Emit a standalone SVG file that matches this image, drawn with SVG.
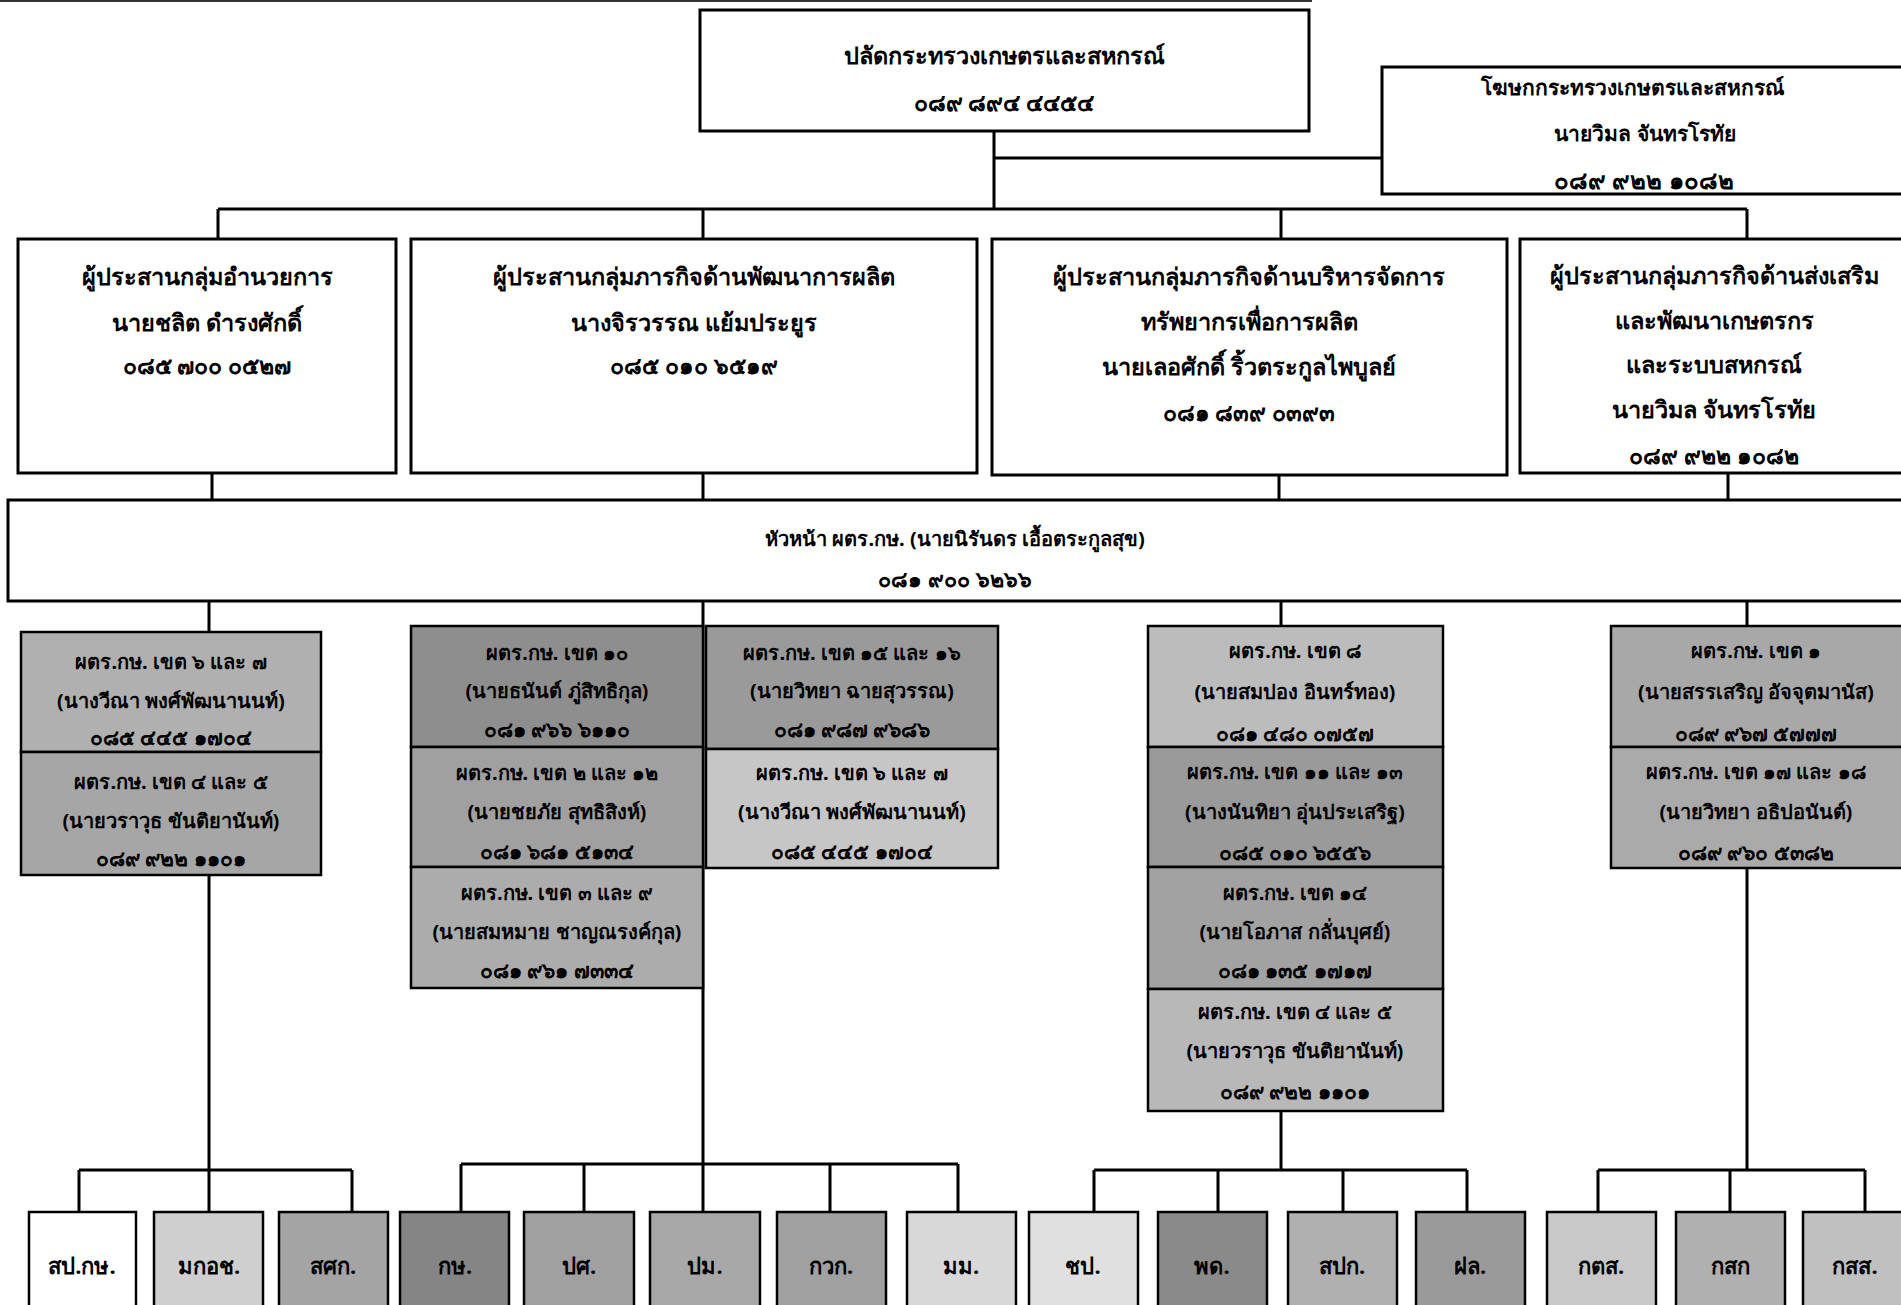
<svg xmlns="http://www.w3.org/2000/svg" width="1901" height="1305" viewBox="0 0 1901 1305">
<style>
text{font-family:"Noto Sans","Liberation Sans",sans-serif;font-weight:bold;text-anchor:middle;dominant-baseline:central;fill:#000}
.t1{font-size:23.5px}
.t2{font-size:20px}
.t3{font-size:23px}
.t4{font-size:21px}
.t5{font-size:22px}
.box{fill:#fff;stroke:#000;stroke-width:3}
.cell{stroke:#000;stroke-width:2.5}
.bb{stroke:#000;stroke-width:2.5}
.ln{stroke:#000;stroke-width:3;fill:none}
</style>
<rect width="1901" height="1305" fill="#fff"/>
<line x1="0" y1="1" x2="1312" y2="1" stroke="#333" stroke-width="2"/>
<g id="connectors">
<path class="ln" d="M994 131V209M994 158H1382M218 209H1747M218 209V239M703 209V239M1281 209V239M1747 209V239"/>
<path class="ln" d="M212 473V500M703 473V500M1279 475V500M1728 473V500"/>
<path class="ln" d="M209 601V632M703 601V1164M1281 601V626M1747 601V626"/>
<path class="ln" d="M209 875V1170M79 1170H352M79 1170V1212M209 1170V1212M352 1170V1212"/>
<path class="ln" d="M461 1164H958M461 1164V1212M584 1164V1212M703 1164V1212M830 1164V1212M958 1164V1212"/>
<path class="ln" d="M1281 1111V1170M1094 1170H1467M1094 1170V1212M1218 1170V1212M1343 1170V1212M1467 1170V1212"/>
<path class="ln" d="M1747 868V1170M1598 1170H1865M1598 1170V1212M1730 1170V1212M1865 1170V1212"/>
</g>
<g id="n-top">
<rect class="box" x="700" y="10" width="609" height="121"/>
<text class="t1" x="1004" y="55">ปลัดกระทรวงเกษตรและสหกรณ์</text>
<text class="t3" x="1004" y="102">๐๘๙ ๘๙๔ ๔๔๕๔</text>
</g>
<g id="n-spokes">
<rect class="box" x="1382" y="67" width="521" height="127"/>
<text x="1632" y="87" font-size="21px">โฆษกกระทรวงเกษตรและสหกรณ์</text>
<text x="1645" y="133" font-size="21px">นายวิมล จันทรโรทัย</text>
<text x="1644" y="179" font-size="24px">๐๘๙ ๙๒๒ ๑๐๘๒</text>
</g>
<g id="n-a">
<rect class="box" x="18" y="239" width="378" height="234"/>
<text class="t1" x="207" y="276">ผู้ประสานกลุ่มอำนวยการ</text>
<text class="t1" x="207" y="322">นายชลิต ดำรงศักดิ์</text>
<text class="t3" x="207" y="365">๐๘๕ ๗๐๐ ๐๕๒๗</text>
</g>
<g id="n-b">
<rect class="box" x="411" y="239" width="566" height="234"/>
<text class="t1" x="694" y="276">ผู้ประสานกลุ่มภารกิจด้านพัฒนาการผลิต</text>
<text class="t1" x="694" y="322">นางจิรวรรณ แย้มประยูร</text>
<text class="t3" x="694" y="365">๐๘๕ ๐๑๐ ๖๕๑๙</text>
</g>
<g id="n-c">
<rect class="box" x="992" y="239" width="515" height="236"/>
<text class="t1" x="1249" y="276">ผู้ประสานกลุ่มภารกิจด้านบริหารจัดการ</text>
<text class="t1" x="1249" y="321">ทรัพยากรเพื่อการผลิต</text>
<text class="t1" x="1249" y="366">นายเลอศักดิ์ ริ้วตระกูลไพบูลย์</text>
<text class="t3" x="1249" y="412">๐๘๑ ๘๓๙ ๐๓๙๓</text>
</g>
<g id="n-d">
<rect class="box" x="1520" y="239" width="383" height="234"/>
<text class="t1" x="1714" y="275">ผู้ประสานกลุ่มภารกิจด้านส่งเสริม</text>
<text class="t1" x="1714" y="320">และพัฒนาเกษตรกร</text>
<text class="t1" x="1714" y="364">และระบบสหกรณ์</text>
<text class="t1" x="1714" y="409">นายวิมล จันทรโรทัย</text>
<text class="t3" x="1714" y="455">๐๘๙ ๙๒๒ ๑๐๘๒</text>
</g>
<g id="n-head">
<rect class="box" x="8" y="500" width="1895" height="101"/>
<text class="t2" x="955" y="538">หัวหน้า ผตร.กษ. (นายนิรันดร เอื้อตระกูลสุข)</text>
<text x="955" y="578" font-size="21.5px">๐๘๑ ๙๐๐ ๖๒๖๖</text>
</g>
<g id="n-g1">
<rect class="cell" x="21" y="632" width="300" height="120" fill="#b0b0b0"/>
<rect class="cell" x="21" y="752" width="300" height="123" fill="#a6a6a6"/>
<text class="t2" x="171" y="661">ผตร.กษ. เขต ๖ และ ๗</text>
<text class="t2" x="171" y="700">(นางวีณา พงศ์พัฒนานนท์)</text>
<text class="t4" x="171" y="737">๐๘๕ ๔๔๕ ๑๗๐๔</text>
<text class="t2" x="171" y="781">ผตร.กษ. เขต ๔ และ ๕</text>
<text class="t2" x="171" y="820">(นายวราวุธ ขันติยานันท์)</text>
<text class="t4" x="171" y="858">๐๘๙ ๙๒๒ ๑๑๐๑</text>
</g>
<g id="n-g2a">
<rect class="cell" x="411" y="626" width="292" height="121" fill="#8e8e8e"/>
<rect class="cell" x="411" y="747" width="292" height="120" fill="#a0a0a0"/>
<rect class="cell" x="411" y="867" width="292" height="121" fill="#acacac"/>
<text class="t2" x="557" y="652">ผตร.กษ. เขต ๑๐</text>
<text class="t2" x="557" y="690">(นายธนันต์ ภู่สิทธิกุล)</text>
<text class="t4" x="557" y="729">๐๘๑ ๙๖๖ ๖๑๑๐</text>
<text class="t2" x="557" y="772">ผตร.กษ. เขต ๒ และ ๑๒</text>
<text class="t2" x="557" y="811">(นายชยภัย สุทธิสิงห์)</text>
<text class="t4" x="557" y="851">๐๘๑ ๖๘๑ ๕๑๓๔</text>
<text class="t2" x="557" y="892">ผตร.กษ. เขต ๓ และ ๙</text>
<text class="t2" x="557" y="931">(นายสมหมาย ชาญณรงค์กุล)</text>
<text class="t4" x="557" y="970">๐๘๑ ๙๖๑ ๗๓๓๔</text>
</g>
<g id="n-g2b">
<rect class="cell" x="706" y="626" width="292" height="123" fill="#9a9a9a"/>
<rect class="cell" x="706" y="749" width="292" height="119" fill="#c6c6c6"/>
<text class="t2" x="852" y="652">ผตร.กษ. เขต ๑๕ และ ๑๖</text>
<text class="t2" x="852" y="690">(นายวิทยา ฉายสุวรรณ)</text>
<text class="t4" x="852" y="729">๐๘๑ ๙๘๗ ๙๖๘๖</text>
<text class="t2" x="852" y="772">ผตร.กษ. เขต ๖ และ ๗</text>
<text class="t2" x="852" y="811">(นางวีณา พงศ์พัฒนานนท์)</text>
<text class="t4" x="852" y="851">๐๘๕ ๔๔๕ ๑๗๐๔</text>
</g>
<g id="n-g3">
<rect class="cell" x="1148" y="626" width="295" height="121" fill="#bcbcbc"/>
<rect class="cell" x="1148" y="747" width="295" height="120" fill="#9a9a9a"/>
<rect class="cell" x="1148" y="867" width="295" height="122" fill="#a2a2a2"/>
<rect class="cell" x="1148" y="989" width="295" height="122" fill="#b8b8b8"/>
<text class="t2" x="1295" y="650">ผตร.กษ. เขต ๘</text>
<text class="t2" x="1295" y="691">(นายสมปอง อินทร์ทอง)</text>
<text class="t4" x="1295" y="733">๐๘๑ ๔๘๐ ๐๗๕๗</text>
<text class="t2" x="1295" y="771">ผตร.กษ. เขต ๑๑ และ ๑๓</text>
<text class="t2" x="1295" y="811">(นางนันทิยา อุ่นประเสริฐ)</text>
<text class="t4" x="1295" y="852">๐๘๕ ๐๑๐ ๖๕๕๖</text>
<text class="t2" x="1295" y="892">ผตร.กษ. เขต ๑๔</text>
<text class="t2" x="1295" y="931">(นายโอภาส กลั่นบุศย์)</text>
<text class="t4" x="1295" y="970">๐๘๑ ๑๓๕ ๑๗๑๗</text>
<text class="t2" x="1295" y="1011">ผตร.กษ. เขต ๔ และ ๕</text>
<text class="t2" x="1295" y="1050">(นายวราวุธ ขันติยานันท์)</text>
<text class="t4" x="1295" y="1091">๐๘๙ ๙๒๒ ๑๑๐๑</text>
</g>
<g id="n-g4">
<rect class="cell" x="1611" y="626" width="292" height="121" fill="#a8a8a8"/>
<rect class="cell" x="1611" y="747" width="292" height="121" fill="#aaaaaa"/>
<text class="t2" x="1756" y="650">ผตร.กษ. เขต ๑</text>
<text class="t2" x="1756" y="691">(นายสรรเสริญ อัจจุตมานัส)</text>
<text class="t4" x="1756" y="733">๐๘๙ ๙๖๗ ๕๗๗๗</text>
<text class="t2" x="1756" y="771">ผตร.กษ. เขต ๑๗ และ ๑๘</text>
<text class="t2" x="1756" y="811">(นายวิทยา อธิปอนันต์)</text>
<text class="t4" x="1756" y="852">๐๘๙ ๙๖๐ ๕๓๘๒</text>
</g>
<g id="n-b1"><rect class="bb" x="29" y="1212" width="107" height="100" fill="#fff"/><text class="t5" x="82" y="1265">สป.กษ.</text></g>
<g id="n-b2"><rect class="bb" x="154" y="1212" width="109" height="100" fill="#cfcfcf"/><text class="t5" x="209" y="1265">มกอช.</text></g>
<g id="n-b3"><rect class="bb" x="279" y="1212" width="109" height="100" fill="#a4a4a4"/><text class="t5" x="333" y="1265">สศก.</text></g>
<g id="n-b4"><rect class="bb" x="400" y="1212" width="109" height="100" fill="#858585"/><text class="t5" x="455" y="1265">กษ.</text></g>
<g id="n-b5"><rect class="bb" x="524" y="1212" width="110" height="100" fill="#a0a0a0"/><text class="t5" x="579" y="1265">ปศ.</text></g>
<g id="n-b6"><rect class="bb" x="650" y="1212" width="110" height="100" fill="#a8a8a8"/><text class="t5" x="705" y="1265">ปม.</text></g>
<g id="n-b7"><rect class="bb" x="777" y="1212" width="109" height="100" fill="#a0a0a0"/><text class="t5" x="831" y="1265">กวก.</text></g>
<g id="n-b8"><rect class="bb" x="907" y="1212" width="109" height="100" fill="#d8d8d8"/><text class="t5" x="961" y="1265">มม.</text></g>
<g id="n-b9"><rect class="bb" x="1029" y="1212" width="109" height="100" fill="#e0e0e0"/><text class="t5" x="1083" y="1265">ชป.</text></g>
<g id="n-b10"><rect class="bb" x="1158" y="1212" width="109" height="100" fill="#8a8a8a"/><text class="t5" x="1212" y="1265">พด.</text></g>
<g id="n-b11"><rect class="bb" x="1288" y="1212" width="109" height="100" fill="#b0b0b0"/><text class="t5" x="1342" y="1265">สปก.</text></g>
<g id="n-b12"><rect class="bb" x="1416" y="1212" width="109" height="100" fill="#9a9a9a"/><text class="t5" x="1470" y="1265">ฝล.</text></g>
<g id="n-b13"><rect class="bb" x="1547" y="1212" width="109" height="100" fill="#c8c8c8"/><text class="t5" x="1601" y="1265">กตส.</text></g>
<g id="n-b14"><rect class="bb" x="1676" y="1212" width="109" height="100" fill="#b0b0b0"/><text class="t5" x="1730" y="1265">กสก</text></g>
<g id="n-b15"><rect class="bb" x="1803" y="1212" width="110" height="100" fill="#c0c0c0"/><text class="t5" x="1855" y="1265">กสส.</text></g>
</svg>
